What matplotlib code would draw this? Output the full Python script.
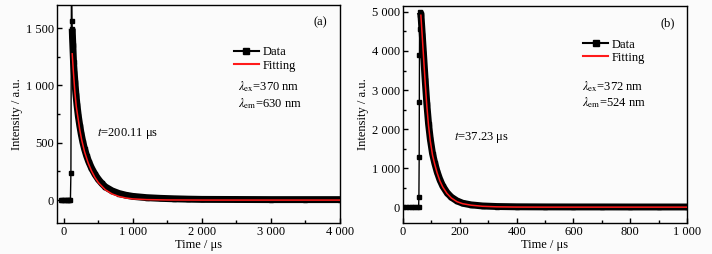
import matplotlib
matplotlib.use("Agg")
import matplotlib.pyplot as plt
from matplotlib.ticker import MultipleLocator, FuncFormatter
from matplotlib.lines import Line2D

plt.rcParams['font.family'] = ['Liberation Serif', 'DejaVu Serif']
plt.rcParams['mathtext.fontset'] = 'stix'
plt.rcParams['font.size'] = 9

# Panel (a) - decay, lambda_ex 370 nm / lambda_em 630 nm
a_data_t = [-40, -20, 0, 20, 40, 60, 80, 95, 102, 110, 118, 121, 125, 130, 140, 150, 160, 175,
            190, 210, 230, 250, 275, 300, 330, 360, 400, 450, 500, 550, 600, 700, 800, 900,
            1000, 1200, 1400, 1600, 1800, 2000, 2500, 3000, 3500, 4000]
a_data_v = [0, 0, 0, 0, 0, 0, 0, 0, 234, 1900, 1562, 1494, 1420, 1350, 1200, 1110, 1030, 920,
            830, 730, 650, 580, 505, 445, 385, 335, 280, 225, 180, 145, 115, 80, 57, 42,
            32, 21, 15, 11, 8, 6, 5, 4, 4, 4]
a_peak = 11
a_fit_t = [121, 140, 160, 180, 208, 230, 257, 300, 353, 400, 450, 500, 600, 700, 800, 900,
           1000, 1200, 1500, 2000, 2500, 3000, 3500, 4000]
a_fit_v = [1275, 1100, 938, 815, 703, 615, 527, 420, 322, 255, 197, 152, 90, 53, 31, 18,
           10, 4, 1, 0, 0, 0, 0, 0]

# Panel (b) - decay, lambda_ex 372 nm / lambda_em 524 nm
b_data_t = [0, 10, 20, 30, 40, 50, 55, 56, 57, 57.5, 58, 58.5, 59, 60, 63, 68, 72, 78, 84, 90,
            96, 104, 112, 120, 130, 140, 155, 170, 190, 210, 240, 280, 330, 400, 500, 600,
            700, 800, 900, 1000]
b_data_v = [0, 0, 0, 0, 0, 0, 0, 271, 1293, 2684, 3893, 4557, 4915, 5000, 4950, 4400, 3950,
            3260, 2640, 2130, 1750, 1370, 1120, 910, 700, 540, 370, 255, 160, 100, 58, 30,
            16, 9, 6, 5, 5, 4, 4, 4]
b_peak = 13
b_fit_t = [63, 68, 72, 78, 84, 90, 96, 104, 112, 120, 130, 140, 155, 170, 190, 210, 240, 280,
           330, 400, 500, 700, 1000]
b_fit_v = [4915, 4350, 3890, 3200, 2580, 2080, 1700, 1330, 1090, 880, 670, 515, 350, 235, 140,
           88, 50, 22, 8, 2, 0, 0, 0]

BG = '#fbfbfb'


def space_thousands(v, pos):
    return f"{int(round(v)):,}".replace(",", " ")


def draw_panel(ax, dt, dv, peak, ft, fv, xlim, ylim, xmaj, xmin, ymaj, ymin,
               tag, lam_ex, lam_em, tau, leg_xy, lam_xy, tau_xy):
    ax.set_facecolor(BG)
    # thick band for the dense decay markers
    ax.plot(dt[peak:], dv[peak:], color='black', lw=5.0, solid_capstyle='butt', zorder=2)
    ax.plot(dt, dv, color='black', lw=1.0, marker='s', ms=3.5, zorder=3)
    ax.plot(ft, fv, color='#ff1a1a', lw=1.1, zorder=4)
    ax.set_xlim(*xlim)
    ax.set_ylim(*ylim)
    ax.xaxis.set_major_locator(MultipleLocator(xmaj))
    ax.xaxis.set_minor_locator(MultipleLocator(xmin))
    ax.yaxis.set_major_locator(MultipleLocator(ymaj))
    ax.yaxis.set_minor_locator(MultipleLocator(ymin))
    ax.xaxis.set_major_formatter(FuncFormatter(space_thousands))
    ax.yaxis.set_major_formatter(FuncFormatter(space_thousands))
    ax.tick_params(which='both', direction='in', top=False, right=False, width=1.0, pad=2)
    ax.tick_params(which='major', length=3.5)
    ax.tick_params(which='minor', length=2)
    for sp in ax.spines.values():
        sp.set_linewidth(1.0)
    ax.set_xlabel('Time / μs', labelpad=1)
    ax.set_ylabel('Intensity / a.u.', labelpad=2)

    handles = [Line2D([], [], color='black', lw=1.5, marker='s', ms=4),
               Line2D([], [], color='#ff1a1a', lw=1.5)]
    ax.legend(handles, ['Data', 'Fitting'], loc='upper left', bbox_to_anchor=leg_xy,
              frameon=False, handlelength=2.0, handletextpad=0.3, labelspacing=0.1,
              borderaxespad=0, borderpad=0)
    ax.text(0.93, 0.92, tag, transform=ax.transAxes, ha='center', va='center')
    ax.text(lam_xy[0], lam_xy[1], r'$\lambda_{\rm ex}$=' + lam_ex, transform=ax.transAxes,
            ha='left', va='center')
    ax.text(lam_xy[0], lam_xy[1] - 0.075, r'$\lambda_{\rm em}$=' + lam_em,
            transform=ax.transAxes, ha='left', va='center')
    ax.text(tau_xy[0], tau_xy[1], r'$t$=' + tau, transform=ax.transAxes,
            ha='left', va='center')


fig = plt.figure(figsize=(7.12, 2.54), dpi=100, facecolor=BG)
ax1 = fig.add_axes([0.080, 0.122, 0.3975, 0.858])
ax2 = fig.add_axes([0.566, 0.123, 0.399, 0.853])

draw_panel(ax1, a_data_t, a_data_v, a_peak, a_fit_t, a_fit_v, (-100, 4000), (-200, 1700),
           1000, 500, 500, 250, '(a)', '370 nm', '630 nm', '200.11 μs',
           (0.625, 0.81), (0.64, 0.625), (0.14, 0.413))
draw_panel(ax2, b_data_t, b_data_v, b_peak, b_fit_t, b_fit_v, (0, 1000), (-400, 5150),
           200, 100, 1000, 500, '(b)', '372 nm', '524 nm', '37.23 μs',
           (0.634, 0.85), (0.63, 0.63), (0.18, 0.395))

fig.savefig('out.png', dpi=100, facecolor=BG)
